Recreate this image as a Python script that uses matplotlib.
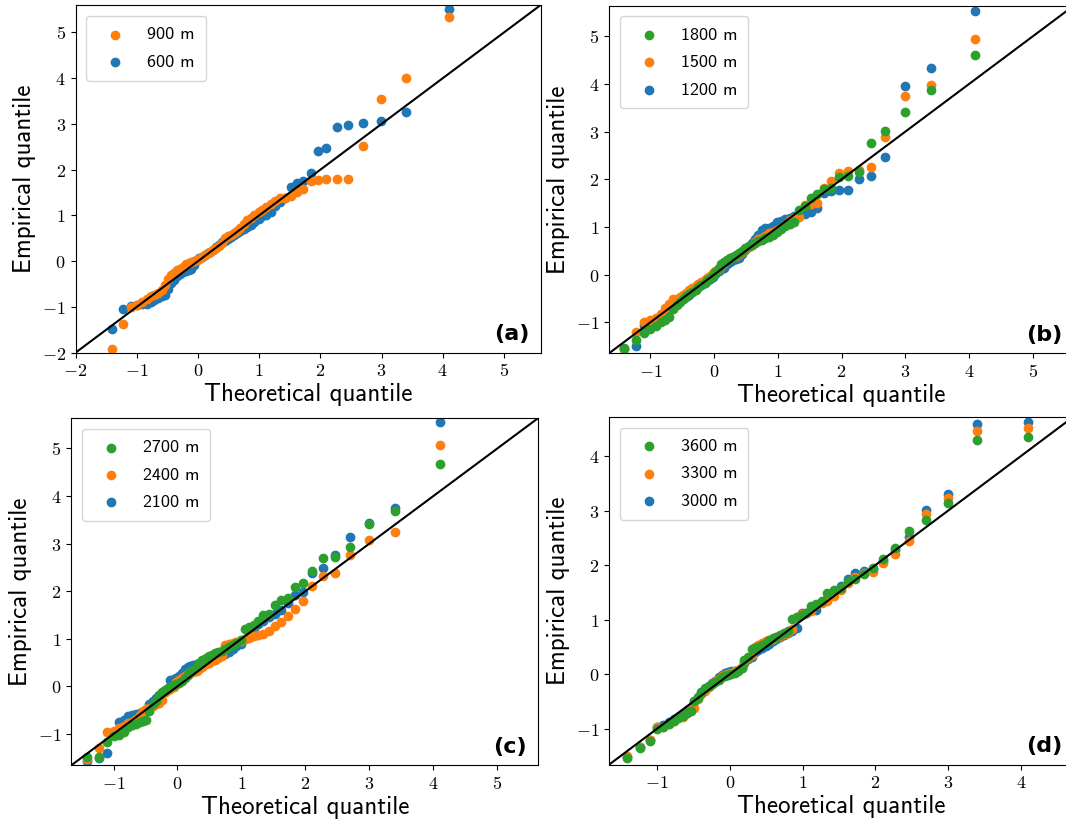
import os
import matplotlib
matplotlib.use('Agg')
import matplotlib.pyplot as plt
from matplotlib.font_manager import FontProperties
from matplotlib.ticker import FuncFormatter, MultipleLocator

# Fuentes tipo LaTeX (Computer Modern) sin necesitar LaTeX instalado
plt.rcParams['mathtext.fontset'] = 'cm'
CMSS = os.path.join(matplotlib.get_data_path(), 'fonts', 'ttf', 'cmss10.ttf')

# Cuantiles teóricos comunes a todas las series (60 máximos por serie)
theo_q = [-1.41, -1.23, -1.10, -1.00, -0.92, -0.84, -0.77, -0.71, -0.65, -0.59,
          -0.54, -0.49, -0.44, -0.39, -0.34, -0.29, -0.25, -0.20, -0.15, -0.11,
          -0.06, -0.02, 0.02, 0.07, 0.11, 0.16, 0.20, 0.25, 0.30, 0.34,
          0.39, 0.44, 0.49, 0.54, 0.59, 0.64, 0.69, 0.75, 0.80, 0.86,
          0.92, 0.99, 1.05, 1.12, 1.19, 1.26, 1.34, 1.43, 1.52, 1.62,
          1.72, 1.84, 1.96, 2.10, 2.27, 2.46, 2.69, 2.99, 3.40, 4.10]

# Cuantiles empíricos por altura
emp_600 = [-1.48, -1.05, -0.98, -0.96, -0.94, -0.93, -0.90, -0.85, -0.80, -0.76,
           -0.74, -0.60, -0.48, -0.42, -0.33, -0.28, -0.24, -0.22, -0.20, -0.16,
           -0.08, 0.02, 0.08, 0.10, 0.13, 0.17, 0.20, 0.24, 0.30, 0.36,
           0.42, 0.45, 0.48, 0.52, 0.57, 0.62, 0.66, 0.70, 0.74, 0.80,
           0.86, 0.93, 0.98, 1.02, 1.08, 1.20, 1.30, 1.38, 1.63, 1.70,
           1.76, 1.92, 2.40, 2.47, 2.94, 2.97, 3.02, 3.06, 3.26, 5.51]
emp_900 = [-1.93, -1.38, -1.00, -0.96, -0.90, -0.82, -0.77, -0.74, -0.70, -0.62,
           -0.52, -0.38, -0.30, -0.26, -0.20, -0.16, -0.12, -0.07, -0.03, -0.01,
           0.00, 0.02, 0.05, 0.09, 0.13, 0.18, 0.21, 0.24, 0.28, 0.33,
           0.40, 0.50, 0.54, 0.57, 0.62, 0.66, 0.72, 0.82, 0.90, 0.95,
           1.00, 1.07, 1.12, 1.18, 1.24, 1.32, 1.38, 1.39, 1.42, 1.51,
           1.58, 1.76, 1.77, 1.79, 1.80, 1.80, 2.51, 3.54, 4.01, 5.34]

emp_1200 = [-1.55, -1.50, -1.06, -1.00, -0.93, -0.85, -0.80, -0.76, -0.68, -0.62,
            -0.56, -0.50, -0.46, -0.42, -0.36, -0.30, -0.26, -0.22, -0.18, -0.14,
            -0.10, -0.04, 0.02, 0.08, 0.11, 0.14, 0.22, 0.26, 0.30, 0.32,
            0.36, 0.44, 0.52, 0.60, 0.66, 0.74, 0.84, 0.94, 0.97, 0.99,
            1.02, 1.10, 1.13, 1.16, 1.20, 1.24, 1.27, 1.28, 1.31, 1.41,
            1.72, 1.76, 1.78, 1.78, 2.01, 2.07, 2.46, 3.97, 4.33, 5.54]
emp_1500 = [-1.56, -1.21, -0.99, -0.96, -0.90, -0.82, -0.70, -0.62, -0.52, -0.50,
            -0.46, -0.42, -0.38, -0.33, -0.28, -0.24, -0.20, -0.16, -0.12, -0.08,
            -0.03, 0.03, 0.07, 0.12, 0.18, 0.24, 0.30, 0.36, 0.38, 0.40,
            0.44, 0.48, 0.54, 0.58, 0.62, 0.68, 0.74, 0.78, 0.82, 0.87,
            0.90, 0.93, 0.98, 1.05, 1.14, 1.18, 1.22, 1.46, 1.48, 1.51,
            1.81, 1.97, 2.13, 2.18, 2.20, 2.27, 2.88, 3.74, 3.98, 4.94]
emp_1800 = [-1.53, -1.37, -1.23, -1.14, -1.08, -1.00, -0.95, -0.88, -0.72, -0.64,
            -0.58, -0.52, -0.44, -0.40, -0.36, -0.32, -0.26, -0.22, -0.17, -0.12,
            -0.08, -0.03, 0.05, 0.14, 0.22, 0.26, 0.30, 0.34, 0.37, 0.42,
            0.46, 0.50, 0.55, 0.60, 0.63, 0.66, 0.70, 0.73, 0.77, 0.80,
            0.84, 0.90, 0.96, 1.02, 1.06, 1.10, 1.36, 1.44, 1.62, 1.70,
            1.79, 1.81, 2.06, 2.07, 2.15, 2.77, 3.02, 3.42, 3.87, 4.61]

emp_2100 = [-1.57, -1.50, -1.40, -0.98, -0.75, -0.70, -0.62, -0.60, -0.58, -0.57,
            -0.56, -0.50, -0.38, -0.30, -0.24, -0.19, -0.15, -0.12, -0.05, 0.14,
            0.16, 0.18, 0.22, 0.28, 0.36, 0.40, 0.42, 0.44, 0.47, 0.50,
            0.53, 0.56, 0.58, 0.60, 0.62, 0.64, 0.66, 0.67, 0.72, 0.78,
            0.84, 0.88, 1.00, 1.12, 1.23, 1.30, 1.38, 1.45, 1.52, 1.60,
            1.75, 1.91, 1.98, 2.39, 2.48, 2.76, 3.13, 3.44, 3.74, 5.55]
emp_2400 = [-1.52, -1.29, -0.96, -0.93, -0.88, -0.84, -0.78, -0.74, -0.68, -0.60,
            -0.52, -0.48, -0.46, -0.42, -0.38, -0.36, -0.28, -0.12, -0.08, -0.06,
            -0.02, 0.10, 0.14, 0.18, 0.22, 0.26, 0.30, 0.30, 0.32, 0.36,
            0.40, 0.46, 0.50, 0.53, 0.56, 0.60, 0.64, 0.86, 0.90, 0.92,
            0.93, 0.96, 1.00, 1.02, 1.05, 1.07, 1.10, 1.17, 1.26, 1.35,
            1.48, 1.63, 1.80, 2.11, 2.32, 2.38, 2.76, 3.07, 3.25, 5.07]
emp_2700 = [-1.49, -1.49, -1.17, -1.05, -1.02, -0.96, -0.86, -0.82, -0.80, -0.76,
            -0.72, -0.70, -0.52, -0.38, -0.30, -0.18, -0.12, -0.08, -0.03, -0.01,
            0.02, 0.05, 0.08, 0.12, 0.18, 0.24, 0.30, 0.34, 0.40, 0.50,
            0.56, 0.60, 0.63, 0.66, 0.70, 0.72, 0.75, 0.78, 0.82, 0.86,
            0.92, 0.98, 1.20, 1.24, 1.28, 1.38, 1.50, 1.52, 1.70, 1.82,
            1.86, 2.08, 2.17, 2.43, 2.69, 2.71, 2.93, 3.41, 3.69, 4.68]

emp_3000 = [-1.52, -1.33, -1.20, -0.96, -0.94, -0.88, -0.82, -0.78, -0.73, -0.68,
            -0.62, -0.50, -0.42, -0.32, -0.27, -0.22, -0.16, -0.12, -0.06, -0.02,
            0.02, 0.04, 0.05, 0.06, 0.08, 0.12, 0.20, 0.28, 0.32, 0.40,
            0.44, 0.48, 0.52, 0.56, 0.60, 0.64, 0.68, 0.72, 0.76, 0.80,
            0.85, 1.12, 1.13, 1.17, 1.18, 1.33, 1.38, 1.50, 1.62, 1.74,
            1.85, 1.90, 1.92, 2.08, 2.27, 2.52, 3.01, 3.31, 4.59, 4.63]
emp_3300 = [-1.50, -1.33, -1.20, -0.97, -0.96, -0.92, -0.86, -0.80, -0.78, -0.72,
            -0.66, -0.62, -0.46, -0.36, -0.30, -0.24, -0.18, -0.12, -0.08, -0.04,
            -0.01, 0.01, 0.03, 0.05, 0.08, 0.14, 0.24, 0.30, 0.36, 0.50,
            0.54, 0.57, 0.60, 0.62, 0.65, 0.68, 0.70, 0.74, 0.78, 0.83,
            1.05, 1.10, 1.12, 1.15, 1.27, 1.30, 1.35, 1.43, 1.55, 1.67,
            1.79, 1.85, 1.87, 2.03, 2.21, 2.44, 2.93, 3.23, 4.46, 4.51]
emp_3600 = [-1.54, -1.35, -1.22, -1.00, -0.97, -0.92, -0.86, -0.80, -0.76, -0.72,
            -0.68, -0.50, -0.44, -0.34, -0.26, -0.22, -0.18, -0.14, -0.10, -0.06,
            -0.04, -0.01, 0.01, 0.03, 0.06, 0.12, 0.26, 0.32, 0.46, 0.48,
            0.50, 0.54, 0.58, 0.62, 0.66, 0.68, 0.71, 0.76, 0.80, 1.02,
            1.04, 1.08, 1.12, 1.25, 1.28, 1.35, 1.48, 1.55, 1.58, 1.70,
            1.74, 1.83, 1.95, 2.12, 2.32, 2.62, 2.83, 3.14, 4.29, 4.34]

BLUE, ORANGE, GREEN = '#1f77b4', '#ff7f0e', '#2ca02c'


def qq_panel(fig, rect, series, lims, tag):
    """Dibuja un panel Q-Q con la recta y = x y su leyenda."""
    ax = fig.add_axes(rect)
    handles = []
    for label, emp, color in series:
        h = ax.scatter(theo_q, emp, s=36, color=color, label=label)
        handles.append(h)

    # Recta de referencia de esquina a esquina
    ax.plot(lims, lims, color='black', lw=1.5)
    ax.set_xlim(lims)
    ax.set_ylim(lims)

    ax.xaxis.set_major_locator(MultipleLocator(1))
    ax.yaxis.set_major_locator(MultipleLocator(1))
    fmt = FuncFormatter(lambda v, pos: r'$%d$' % round(v))
    ax.xaxis.set_major_formatter(fmt)
    ax.yaxis.set_major_formatter(fmt)
    ax.tick_params(labelsize=13)

    label_font = FontProperties(fname=CMSS, size=18)
    ax.set_xlabel('Theoretical quantile', fontproperties=label_font, labelpad=2)
    ax.set_ylabel('Empirical quantile', fontproperties=label_font, labelpad=4)

    # Leyenda con el orden invertido (la altura mayor arriba)
    ax.legend(handles=handles[::-1], loc='upper left',
              prop=FontProperties(fname=CMSS, size=13),
              handletextpad=0.78, borderpad=0.6, labelspacing=0.65,
              borderaxespad=0.6)

    ax.text(0.975, 0.025, tag, transform=ax.transAxes, ha='right', va='bottom',
            fontsize=16, fontweight='bold')
    return ax


W, H = 1066, 823
fig = plt.figure(figsize=(W / 100, H / 100), dpi=100)


def px_rect(left, top, right, bottom):
    return [left / W, 1 - bottom / H, (right - left) / W, (bottom - top) / H]


qq_panel(fig, px_rect(75.5, 5, 540.7, 352.7),
         [('600 m', emp_600, BLUE), ('900 m', emp_900, ORANGE)],
         (-2.0, 5.6), '(a)')
qq_panel(fig, px_rect(609, 5.5, 1074, 353.3),
         [('1200 m', emp_1200, BLUE), ('1500 m', emp_1500, ORANGE), ('1800 m', emp_1800, GREEN)],
         (-1.65, 5.65), '(b)')
qq_panel(fig, px_rect(71.3, 418, 538.3, 765.3),
         [('2100 m', emp_2100, BLUE), ('2400 m', emp_2400, ORANGE), ('2700 m', emp_2700, GREEN)],
         (-1.66, 5.64), '(c)')
qq_panel(fig, px_rect(609, 416.7, 1073.5, 764.7),
         [('3000 m', emp_3000, BLUE), ('3300 m', emp_3300, ORANGE), ('3600 m', emp_3600, GREEN)],
         (-1.66, 4.72), '(d)')

fig.savefig('out.png', dpi=100)
